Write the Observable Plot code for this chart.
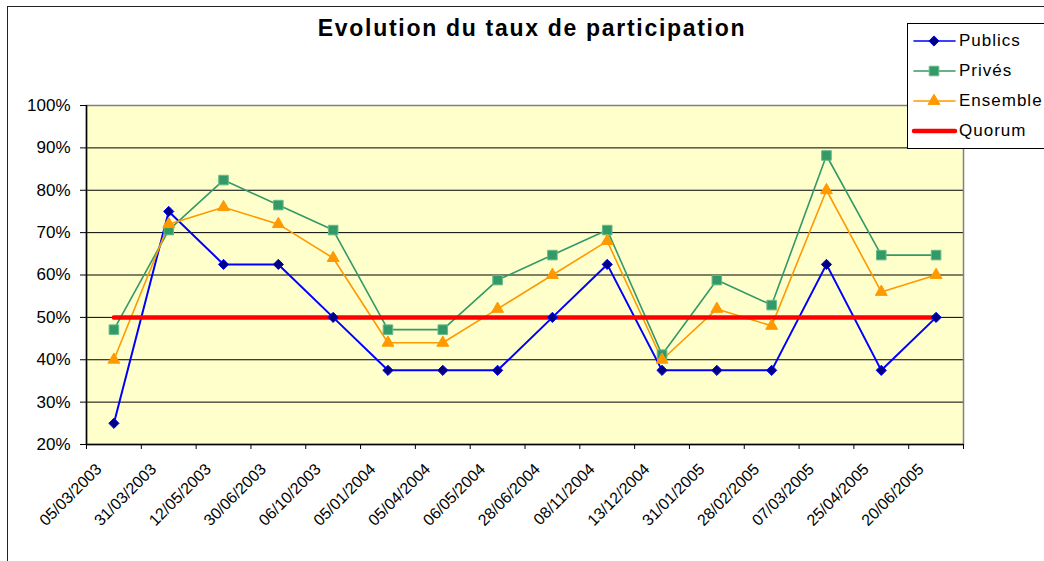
<!DOCTYPE html>
<html>
<head>
<meta charset="utf-8">
<script src="https://cdn.jsdelivr.net/npm/d3@7"></script>
<script src="https://cdn.jsdelivr.net/npm/@observablehq/plot@0.6"></script>
<style>
  html, body { margin: 0; padding: 0; background: #fff; }
  body { width: 1044px; height: 561px; overflow: hidden; position: relative; font-family: "Liberation Sans", Arial, sans-serif; }
  #frame { position: absolute; left: 7px; top: 6px; width: 1100px; height: 600px; border-left: 1px solid #222; border-top: 1px solid #222; box-sizing: border-box; }
  #chart { position: absolute; left: 0; top: 0; }
  #title { position: absolute; left: 10px; width: 1044px; top: 15px; text-align: center; font-size: 23px; font-weight: bold; letter-spacing: 1.7px; color: #000; }
  #legend { position: absolute; left: 907px; top: 23px; width: 160px; height: 126px; border: 1px solid #000; background: #fff; box-sizing: border-box; }
  .lg { position: absolute; left: 0; height: 30px; width: 160px; }
  .lg svg { position: absolute; left: 0; top: 0; }
  .lg span { position: absolute; left: 51px; top: 5px; font-size: 17px; letter-spacing: 1px; color: #000; line-height: 20px; }
</style>
</head>
<body>
<div id="frame"></div>
<div id="chart"></div>
<div id="title">Evolution du taux de participation</div>
<div id="legend"></div>
<script>
// ---- data ----
const dates = ["05/03/2003","31/03/2003","12/05/2003","30/06/2003","06/10/2003","05/01/2004","05/04/2004","06/05/2004","28/06/2004","08/11/2004","13/12/2004","31/01/2005","28/02/2005","07/03/2005","25/04/2005","20/06/2005"];
const publics  = [25, 75, 62.5, 62.5, 50, 37.5, 37.5, 37.5, 50, 62.5, 37.5, 37.5, 37.5, 62.5, 37.5, 50];
const prives   = [47.1, 70.6, 82.4, 76.5, 70.6, 47.1, 47.1, 58.8, 64.7, 70.6, 41.2, 58.8, 52.9, 88.2, 64.7, 64.7];
const ensemble = [40, 72, 76, 72, 64, 44, 44, 52, 60, 68, 40, 52, 48, 80, 56, 60];
const quorum   = [50, 50, 50, 50, 50, 50, 50, 50, 50, 50, 50, 50, 50, 50, 50, 50];
const seriesNames = ["Publics", "Privés", "Ensemble", "Quorum"];
const yTicks = [20, 30, 40, 50, 60, 70, 80, 90, 100];

// ---- styles ----
const styles = {
  "Publics":  {line: "#0000FF", fill: "#000080", stroke: "#0000FF", symbol: "diamond2", r: 4.6, sw: 2},
  "Privés":   {line: "#339966", fill: "#339966", stroke: "#66BB88", symbol: "square", r: 5.4, sw: 1.6},
  "Ensemble": {line: "#FF9900", fill: "#FF9900", stroke: "#FF9900", symbol: "triangle", r: 4.4, sw: 1.6},
  "Quorum":   {line: "#FF0000", sw: 4.5}
};

const valuesBySeries = {"Publics": publics, "Privés": prives, "Ensemble": ensemble, "Quorum": quorum};
const rows = seriesNames.flatMap(s => valuesBySeries[s].map((v, i) => ({series: s, i: i + 0.5, date: dates[i], v})));

const marks = [
  Plot.frame({fill: "#FFFFCC", stroke: null}),
  Plot.ruleY(yTicks.slice(1, -1), {stroke: "#000", strokeWidth: 1}),
  Plot.frame({stroke: "#808080", strokeWidth: 1.5}),
  Plot.ruleY([20], {stroke: "#000", strokeWidth: 1.5}),
  Plot.ruleX([0], {stroke: "#000", strokeWidth: 1.5}),
  Plot.axisY(yTicks, {label: null, tickSize: 6, tickPadding: 10, tickFormat: d => d + "%", fontSize: 17, letterSpacing: 0.5, stroke: "#000", fill: "#000"}),
  Plot.axisX(d3.range(dates.length + 1), {label: null, tickSize: 5, tickFormat: () => "", stroke: "#000"}),
  Plot.axisX(d3.range(dates.length).map(i => i + 0.5), {label: null, tickSize: 0, tickPadding: 22, tickRotate: -45, dx: -15, tickFormat: d => dates[Math.floor(d)], fontSize: 16, letterSpacing: 0.3, fill: "#000"})
];
for (const s of ["Publics", "Privés", "Ensemble"]) {
  marks.push(Plot.line(rows.filter(d => d.series === s), {x: "i", y: "v", stroke: styles[s].line, strokeWidth: styles[s].sw}));
}
marks.push(Plot.line(rows.filter(d => d.series === "Quorum"), {x: "i", y: "v", stroke: styles.Quorum.line, strokeWidth: styles.Quorum.sw}));
for (const s of ["Publics", "Privés", "Ensemble"]) {
  const st = styles[s];
  marks.push(Plot.dot(rows.filter(d => d.series === s), {x: "i", y: "v", symbol: () => st.symbol, r: st.r, fill: st.fill, stroke: st.stroke, strokeWidth: 1}));
}

const chart = Plot.plot({
  width: 1044,
  height: 561,
  marginLeft: 86,
  marginRight: 81,
  marginTop: 105,
  marginBottom: 117,
  style: {fontFamily: "'Liberation Sans', Arial, sans-serif", background: "transparent", overflow: "visible"},
  x: {type: "linear", domain: [0, dates.length], axis: null, label: null},
  y: {type: "linear", domain: [20, 100], axis: null, label: null},
  symbol: {type: "identity"},
  marks
});
document.getElementById("chart").appendChild(chart);

// ---- legend ----
const legend = document.getElementById("legend");
seriesNames.forEach((s, k) => {
  const st = styles[s];
  const row = document.createElement("div");
  row.className = "lg";
  row.style.top = (2 + k * 30) + "px";
  let marker = "";
  if (st.symbol) {
    const sym = {diamond2: d3.symbolDiamond2, square: d3.symbolSquare, triangle: d3.symbolTriangle}[st.symbol];
    const size = Math.PI * st.r * st.r;
    marker = `<path d="${d3.symbol(sym, size)()}" transform="translate(26,15)" fill="${st.fill}" stroke="${st.stroke}" stroke-width="1"/>`;
  }
  row.innerHTML = `<svg width="50" height="30"><line x1="6" x2="47" y1="15" y2="15" stroke="${st.line}" stroke-width="${s === 'Quorum' ? 4.5 : 1.6}" stroke-linecap="round"/>${marker}</svg><span>${s}</span>`;
  legend.appendChild(row);
});
</script>
</body>
</html>
